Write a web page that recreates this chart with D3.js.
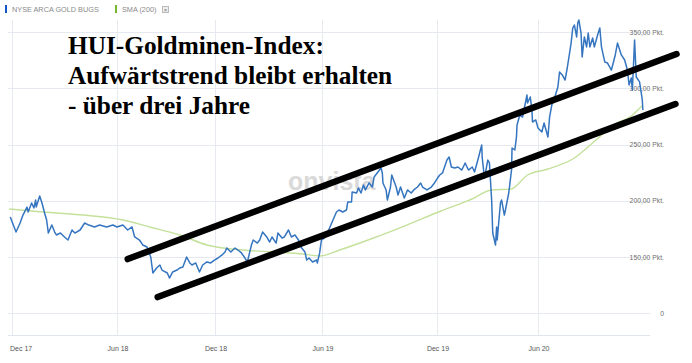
<!DOCTYPE html>
<html>
<head>
<meta charset="utf-8">
<script src="https://cdn.jsdelivr.net/npm/d3@7/dist/d3.min.js"></script>
<style>
  html, body { margin: 0; padding: 0; background: #fff; }
  svg { display: block; }
</style>
</head>
<body>
<svg id="chart" width="692" height="363"></svg>
<script>
// ---------------- DATA ----------------
const seriesNames = ["NYSE ARCA GOLD BUGS", "SMA (200)"];
const titleLines = ["HUI-Goldminen-Index:", "Aufwärtstrend bleibt erhalten", "- über drei Jahre"];
const watermark = "onvista";

const xTickDates = ["2017-12-01", "2018-06-01", "2018-12-01", "2019-06-01", "2019-12-01", "2020-06-01"];
const xTickLabels = ["Dec 17", "Jun 18", "Dec 18", "Jun 19", "Dec 19", "Jun 20"];
const yTickValues = [350, 300, 250, 200, 150, 100];
const yTickLabels = ["350,00 Pkt.", "300,00 Pkt.", "250,00 Pkt.", "200,00 Pkt.", "150,00 Pkt.", "0"];

const priceDates = [
"2017-11-28","2017-12-08","2017-12-15","2017-12-20","2017-12-27","2017-12-29","2018-01-04","2018-01-08","2018-01-11","2018-01-12",
"2018-01-18","2018-01-22","2018-01-26","2018-01-30","2018-02-02","2018-02-08","2018-02-13","2018-02-16","2018-02-23","2018-03-02",
"2018-03-08","2018-03-15","2018-03-20","2018-03-29","2018-04-06","2018-04-13","2018-04-23","2018-05-02","2018-05-14","2018-05-25",
"2018-06-01","2018-06-12","2018-06-21","2018-06-29","2018-07-04","2018-07-13","2018-07-19","2018-07-27","2018-08-03","2018-08-07",
"2018-08-14","2018-08-20","2018-08-24","2018-09-03","2018-09-07","2018-09-13","2018-09-21","2018-09-26","2018-10-02","2018-10-09",
"2018-10-15","2018-10-19","2018-10-26","2018-11-02","2018-11-08","2018-11-16","2018-11-23","2018-11-30","2018-12-06","2018-12-13",
"2018-12-18","2018-12-21","2018-12-28","2019-01-04","2019-01-09","2019-01-15","2019-01-21","2019-01-25","2019-02-01","2019-02-04",
"2019-02-11","2019-02-15","2019-02-20","2019-02-27","2019-03-04","2019-03-08","2019-03-15","2019-03-18","2019-03-25","2019-03-29",
"2019-04-05","2019-04-10","2019-04-16","2019-04-22","2019-04-26","2019-05-03","2019-05-06","2019-05-10","2019-05-16","2019-05-23",
"2019-05-24","2019-05-28","2019-05-31","2019-06-05","2019-06-13","2019-06-24","2019-06-28","2019-07-04","2019-07-10","2019-07-12",
"2019-07-18","2019-07-19","2019-07-26","2019-07-29","2019-08-02","2019-08-06","2019-08-09","2019-08-15","2019-08-20","2019-08-23",
"2019-08-29","2019-09-03","2019-09-05","2019-09-06","2019-09-11","2019-09-13","2019-09-18","2019-09-20","2019-09-27","2019-09-30",
"2019-10-04","2019-10-10","2019-10-15","2019-10-21","2019-10-25","2019-10-31","2019-11-05","2019-11-08","2019-11-15","2019-11-22",
"2019-11-27","2019-12-02","2019-12-06","2019-12-11","2019-12-19","2019-12-23","2019-12-27","2020-01-02","2020-01-08","2020-01-15",
"2020-01-21","2020-01-27","2020-02-03","2020-02-07","2020-02-13","2020-02-20","2020-02-21","2020-02-25","2020-03-02","2020-03-05",
"2020-03-09","2020-03-11","2020-03-16","2020-03-18","2020-03-19","2020-03-25","2020-03-27","2020-04-01","2020-04-03","2020-04-09",
"2020-04-14","2020-04-15","2020-04-20","2020-04-23","2020-04-24","2020-04-29","2020-05-04","2020-05-12","2020-05-13","2020-05-18",
"2020-05-21","2020-05-22","2020-05-28","2020-06-01","2020-06-08","2020-06-12","2020-06-19","2020-06-22","2020-06-26","2020-07-01",
"2020-07-07","2020-07-10","2020-07-15","2020-07-20","2020-07-24","2020-07-31","2020-08-03","2020-08-06","2020-08-10","2020-08-12",
"2020-08-14","2020-08-18","2020-08-20","2020-08-24","2020-08-28","2020-08-31","2020-09-03","2020-09-08","2020-09-11","2020-09-17",
"2020-09-21","2020-09-24","2020-09-30","2020-10-05","2020-10-12","2020-10-19","2020-10-23","2020-10-30","2020-11-05","2020-11-10",
"2020-11-13","2020-11-17","2020-11-19","2020-11-23","2020-11-26","2020-12-02","2020-12-07","2020-12-08"
];
const priceValues = [
185.6,172.2,180.2,187.3,194.4,190.0,198.0,193.6,200.7,194.4,
204.2,198.0,190.0,182.9,171.3,178.4,172.2,169.6,171.3,167.8,
165.1,174.0,171.3,174.0,180.2,178.4,176.7,178.4,176.7,178.4,
176.7,178.4,174.0,176.7,167.8,165.1,160.7,158.9,150.0,135.8,
140.2,142.9,138.4,135.8,131.3,136.7,138.4,140.2,141.1,150.0,
144.7,142.9,144.7,136.7,142.9,145.6,144.7,147.3,149.1,151.8,
154.4,158.0,154.4,158.0,156.2,153.6,149.1,145.6,160.7,165.1,
162.4,165.1,172.2,167.8,163.3,167.8,162.4,171.3,166.9,167.8,
174.0,167.8,169.6,165.1,158.9,154.4,147.3,149.1,145.6,147.3,
144.7,153.6,165.1,166.9,175.8,190.0,191.8,190.0,191.8,198.9,
198.9,207.8,206.9,211.3,206.9,214.0,209.6,215.8,212.2,221.1,
225.6,229.1,224.7,215.8,209.6,200.7,212.2,222.9,212.2,205.1,
212.2,202.4,209.6,206.9,209.6,212.2,215.8,212.2,209.6,212.2,
215.8,220.2,222.9,224.7,236.2,238.9,230.0,229.1,230.0,227.3,
233.6,227.3,230.0,225.6,236.2,249.6,238.0,220.2,236.2,233.6,
200.7,171.3,160.7,176.7,165.1,198.0,200.7,187.3,191.8,206.9,
227.3,246.9,245.1,256.7,267.3,276.2,274.4,294.0,286.9,292.2,
280.7,270.0,271.8,264.7,261.1,269.1,256.7,274.4,285.1,291.3,
301.1,314.4,311.8,307.3,318.0,340.2,353.6,356.2,345.6,358.0,
360.7,349.1,327.8,345.6,336.7,349.1,336.7,344.7,336.7,347.3,
353.6,336.7,323.3,322.4,316.2,329.6,340.2,329.6,325.1,316.2,
302.9,309.1,298.4,342.9,310.0,305.6,289.6,280.7
];

const smaDates = [
"2017-11-26","2018-01-23","2018-04-03","2018-06-12","2018-08-01","2018-09-26","2018-11-16","2019-01-17","2019-03-16","2019-04-30",
"2019-05-28","2019-06-29","2019-08-22","2019-10-14","2019-12-08","2020-02-06","2020-03-08","2020-04-13","2020-05-13","2020-06-19",
"2020-08-06","2020-09-12","2020-10-18","2020-11-17","2020-12-06"
];
const smaValues = [
192.7,190.0,187.3,182.9,176.7,169.6,160.7,156.2,154.4,152.7,
150.9,156.2,166.9,178.4,190.9,202.4,209.6,210.4,222.9,228.2,
238.0,253.1,268.2,275.3,284.2
];

// hand-drawn trend channel (start / end points)
const trendUpperDates = ["2018-06-21", "2021-02-07"];
const trendUpperValues = [148.2, 330.4];
const trendLowerDates = ["2018-08-16", "2021-02-05"];
const trendLowerValues = [114.4, 286.0];

// ---------------- DRAWING ----------------
const parse = d3.timeParse("%Y-%m-%d");
const svg = d3.select("#chart");

const plotLeft = 8, plotRight = 650, plotTop = 20, plotBottom = 335;

const x = d3.scaleTime()
  .domain(xTickDates.map(parse))
  .range([12, 117, 215, 322, 437, 538]);
const y = d3.scaleLinear().domain([150, 350]).range([257, 32]);

const gridColor = "#e6e9ef";

// horizontal gridlines
svg.append("g").selectAll("line").data(yTickValues).join("line")
  .attr("x1", plotLeft).attr("x2", plotRight)
  .attr("y1", d => Math.round(y(d)) + 0.5).attr("y2", d => Math.round(y(d)) + 0.5)
  .attr("stroke", gridColor).attr("stroke-width", 1);

// vertical gridlines
svg.append("g").selectAll("line").data(xTickDates).join("line")
  .attr("x1", d => Math.round(x(parse(d))) + 0.5).attr("x2", d => Math.round(x(parse(d))) + 0.5)
  .attr("y1", plotTop).attr("y2", plotBottom)
  .attr("stroke", gridColor).attr("stroke-width", 1);

// bottom baseline
svg.append("line")
  .attr("x1", plotLeft).attr("x2", plotRight)
  .attr("y1", plotBottom + 0.5).attr("y2", plotBottom + 0.5)
  .attr("stroke", "#e0e4eb").attr("stroke-width", 1);

// watermark
svg.append("text")
  .attr("x", 288).attr("y", 190)
  .attr("font-family", "'Liberation Sans', Arial, sans-serif")
  .attr("font-weight", "bold")
  .attr("font-size", 25)
  .attr("fill", "#d9d9d9")
  .text(watermark);

// y-axis labels
svg.append("g").selectAll("text").data(yTickValues).join("text")
  .attr("x", 664)
  .attr("y", d => y(d) + 2.5)
  .attr("text-anchor", "end")
  .attr("font-family", "'Liberation Sans', Arial, sans-serif")
  .attr("font-size", 6.8)
  .attr("fill", "#6f6f6f")
  .text((d, i) => yTickLabels[i]);

// x-axis labels
svg.append("g").selectAll("text").data(xTickDates).join("text")
  .attr("x", (d, i) => i === 0 ? x(parse(d)) - 2 : x(parse(d)) + 1)
  .attr("y", 351)
  .attr("text-anchor", (d, i) => i === 0 ? "start" : "middle")
  .attr("font-family", "'Liberation Sans', Arial, sans-serif")
  .attr("font-size", 7)
  .attr("fill", "#555")
  .text((d, i) => xTickLabels[i]);

// SMA line
const smaData = smaDates.map((d, i) => [parse(d), smaValues[i]]);
svg.append("path")
  .datum(smaData)
  .attr("fill", "none")
  .attr("stroke", "#c4e19c")
  .attr("stroke-width", 1.4)
  .attr("d", d3.line().x(d => x(d[0])).y(d => y(d[1])).curve(d3.curveMonotoneX));

// price line
const priceData = priceDates.map((d, i) => [parse(d), priceValues[i]]);
svg.append("path")
  .datum(priceData)
  .attr("fill", "none")
  .attr("stroke", "#3575c0")
  .attr("stroke-width", 1.5)
  .attr("stroke-linejoin", "round")
  .attr("d", d3.line().x(d => x(d[0])).y(d => y(d[1])));

// trend channel
[[trendUpperDates, trendUpperValues], [trendLowerDates, trendLowerValues]].forEach(([ds, vs]) => {
  svg.append("path")
    .datum(ds.map((d, i) => [parse(d), vs[i]]))
    .attr("fill", "none")
    .attr("stroke", "#000")
    .attr("stroke-width", 6.5)
    .attr("stroke-linecap", "round")
    .attr("d", d3.line().x(d => x(d[0])).y(d => y(d[1])));
});

// title
svg.append("g").selectAll("text").data(titleLines).join("text")
  .attr("x", 68)
  .attr("y", (d, i) => 54 + i * 30)
  .attr("font-family", "'Liberation Serif', 'Times New Roman', serif")
  .attr("font-weight", "bold")
  .attr("font-size", 25.3)
  .attr("fill", "#000")
  .text(d => d);

// legend
const legendItems = [
  { name: seriesNames[0], color: "#1155c8", x: 5 },
  { name: seriesNames[1], color: "#76b82a", x: 115 }
];
const lg = svg.append("g");
legendItems.forEach(it => {
  lg.append("rect").attr("x", it.x).attr("y", 5).attr("width", 2).attr("height", 8).attr("fill", it.color);
  lg.append("text").attr("x", it.x + 7).attr("y", 12)
    .attr("font-family", "'Liberation Sans', Arial, sans-serif")
    .attr("font-size", 7.3).attr("fill", "#8a8a8a").text(it.name);
});
lg.append("rect").attr("x", 162.5).attr("y", 6.5).attr("width", 6).attr("height", 6)
  .attr("fill", "#eee").attr("stroke", "#bbb").attr("stroke-width", 1);
lg.append("text").attr("x", 165.5).attr("y", 11.5).attr("text-anchor", "middle")
  .attr("font-family", "'Liberation Sans', Arial, sans-serif")
  .attr("font-size", 6).attr("fill", "#777").text("×");
</script>
</body>
</html>
